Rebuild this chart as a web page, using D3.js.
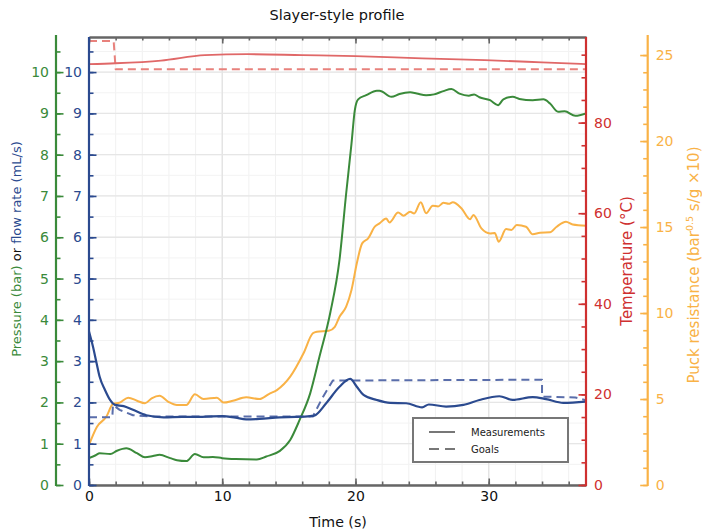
<!DOCTYPE html>
<html>
<head>
<meta charset="utf-8">
<script src="https://cdn.jsdelivr.net/npm/d3@7"></script>
<style>
  body { margin: 0; background: #fff; }
  svg { font-family: "DejaVu Sans", sans-serif; display: block; }
</style>
</head>
<body>
<svg id="chart" width="702" height="532"></svg>
<script>
// measurements, [time s, value]
const pressure = [[0,0.65],[0.5,0.72],[0.8,0.77],[1.6,0.75],[2.1,0.83],[2.8,0.89],[3.6,0.77],[4.2,0.67],[4.8,0.7],[5.3,0.73],[6.1,0.65],[6.6,0.6],[7.3,0.58],[7.95,0.75],[8.6,0.67],[9.3,0.68],[10,0.65],[11,0.63],[12.6,0.62],[13.3,0.69],[14.3,0.82],[15.1,1.09],[15.8,1.57],[16.6,2.22],[17.3,3.11],[18.1,4.16],[18.8,5.45],[19.3,7.06],[19.7,8.27],[19.95,9.08],[20.2,9.34],[20.8,9.44],[21.6,9.55],[21.8,9.55],[22.7,9.40],[23.3,9.47],[24.1,9.51],[24.6,9.48],[25.3,9.44],[25.9,9.46],[26.6,9.54],[27.2,9.59],[27.8,9.48],[28.5,9.43],[28.9,9.46],[29.3,9.39],[30.1,9.32],[30.7,9.2],[31.1,9.34],[31.8,9.40],[32.3,9.35],[33.3,9.32],[34.1,9.34],[34.6,9.24],[35.2,9.04],[35.7,9.05],[36.5,8.94],[37.3,9.0]];
const flow = [[0,3.72],[0.3,3.35],[0.57,2.95],[0.8,2.62],[1.2,2.3],[1.58,2.06],[1.95,1.94],[2.6,1.91],[3.3,1.82],[4.3,1.69],[5.6,1.64],[7,1.65],[8.5,1.65],[10,1.67],[11,1.63],[11.8,1.59],[12.8,1.6],[14.3,1.64],[15.5,1.65],[16.6,1.67],[16.9,1.68],[17.8,1.98],[18.8,2.38],[19.6,2.57],[20.1,2.38],[20.6,2.18],[21.6,2.06],[22.6,1.99],[23.8,1.98],[25,1.88],[25.5,1.95],[26.8,1.90],[28.1,1.94],[29.3,2.06],[30.8,2.15],[31.8,2.06],[33.3,2.13],[34.3,2.08],[35.6,1.99],[37.3,2.02]];
const temperature = [[0,92.9],[2,93.1],[5.4,93.7],[8.7,94.9],[11.9,95.1],[16,94.9],[20,94.7],[25,94.2],[29.7,93.8],[34,93.3],[37.3,92.9]];
const resistance = [[0,2.33],[0.6,3.39],[1.3,3.97],[1.8,4.71],[2.3,4.79],[2.95,5.08],[3.6,4.9],[4.2,4.75],[4.7,5.04],[5.3,5.19],[5.95,4.84],[6.6,4.65],[7.3,4.65],[7.95,5.27],[8.6,5.0],[9.6,5.08],[10.1,4.79],[10.8,4.9],[11.8,5.1],[12.8,5.0],[13.5,5.29],[14.1,5.52],[15.1,6.3],[16.1,7.66],[16.8,8.82],[17.1,8.91],[18,8.97],[18.45,9.2],[18.8,9.78],[19.3,10.37],[19.7,11.34],[20.1,12.89],[20.5,14.05],[20.95,14.34],[21.45,15.02],[21.8,15.21],[22.3,15.5],[22.55,15.27],[23.2,15.85],[23.6,15.66],[24.1,15.89],[24.4,15.79],[24.9,16.44],[25.3,15.8],[25.8,16.24],[26.2,16.2],[26.6,16.41],[27,16.35],[27.3,16.44],[27.95,16.09],[28.6,15.45],[28.85,15.7],[29.45,14.92],[30.1,14.63],[30.45,14.65],[30.75,14.15],[31.3,14.88],[31.7,14.83],[32.1,15.12],[32.8,15.02],[33.3,14.58],[33.85,14.67],[34.6,14.69],[35.1,15.02],[35.8,15.31],[36.3,15.15],[37.3,15.08]];

// goals
const flowGoal = [[0,1.64],[1.75,1.64],[1.8,1.94],[2.3,1.82],[3.3,1.69],[4.5,1.66],[16.8,1.66],[17.5,2.1],[18.3,2.53],[34,2.55],[34,2.14],[36.5,2.12],[37.3,2.05]];
const tempGoal = [[0,98],[1.85,98],[2.0,91.8],[37.3,91.8]];

// ticks
const timeMajor = [0, 10, 20, 30];
const timeMinor = d3.range(0, 37, 2);
const leftMajor = d3.range(0, 11, 1);
const leftMinor = d3.range(0, 10.9, 0.5);
const tempMajor = [0, 20, 40, 60, 80];
const tempMinor = d3.range(0, 99, 5);
const resMajor = [0, 5, 10, 15, 20, 25];
const resMinor = d3.range(0, 26, 1);

const green = "#3a8a3a", blue = "#2b4a8f", blueGoal = "#5a6eab",
      red = "#cf3030", tempLine = "#e06868", tempGoalC = "#e8817c",
      orange = "#f9b246", gray = "#666";

const svg = d3.select("#chart");
const L = 89, R = 586, T = 37, B = 485;

const x = d3.scaleLinear().domain([0, 37.3]).range([L, R]);
const yL = d3.scaleLinear().domain([0, 10.85]).range([B, T]);
const yT = d3.scaleLinear().domain([0, 98.9]).range([B, T]);
const yR = d3.scaleLinear().domain([0, 26.05]).range([B, T]);

// grid
const grid = svg.append("g");
grid.selectAll(".vmin").data(timeMinor).enter().append("line")
  .attr("x1", d => x(d)).attr("x2", d => x(d)).attr("y1", T).attr("y2", B)
  .attr("stroke", "#f1f1f1").attr("stroke-width", 1);
grid.selectAll(".hmin").data(leftMinor).enter().append("line")
  .attr("x1", L).attr("x2", R).attr("y1", d => yL(d)).attr("y2", d => yL(d))
  .attr("stroke", "#f3f3f3").attr("stroke-width", 1);
grid.selectAll(".vmaj").data(timeMajor).enter().append("line")
  .attr("x1", d => x(d)).attr("x2", d => x(d)).attr("y1", T).attr("y2", B)
  .attr("stroke", "#e2e2e2").attr("stroke-width", 1.3);
grid.selectAll(".hmaj").data(leftMajor).enter().append("line")
  .attr("x1", L).attr("x2", R).attr("y1", d => yL(d)).attr("y2", d => yL(d))
  .attr("stroke", "#e6e6e6").attr("stroke-width", 1.3);

// lines
svg.append("clipPath").attr("id", "clip").append("rect")
  .attr("x", L).attr("y", T).attr("width", R - L).attr("height", B - T);
const plot = svg.append("g").attr("clip-path", "url(#clip)");

function drawLine(data, ys, color, dash, width, curve) {
  const line = d3.line().x(d => x(d[0])).y(d => ys(d[1])).curve(curve || d3.curveLinear);
  plot.append("path").datum(data)
    .attr("d", line)
    .attr("fill", "none")
    .attr("stroke", color)
    .attr("stroke-width", width)
    .attr("stroke-dasharray", dash)
    .attr("stroke-linejoin", "round");
}
drawLine(tempGoal, yT, tempGoalC, "8,5", 2);
drawLine(temperature, yT, tempLine, null, 1.8, d3.curveMonotoneX);
drawLine(resistance, yR, orange, null, 2, d3.curveMonotoneX);
drawLine(flowGoal, yL, blueGoal, "8,5", 2);
drawLine(pressure, yL, green, null, 2, d3.curveMonotoneX);
drawLine(flow, yL, blue, null, 2.2, d3.curveMonotoneX);

// axes
function styleAxis(g, color, width, fontSize) {
  g.select(".domain").attr("stroke", color).attr("stroke-width", width);
  g.selectAll(".tick line").attr("stroke", color).attr("stroke-width", 1.6);
  g.selectAll(".tick text").attr("fill", color).style("font-size", fontSize + "px")
    .style("font-family", "DejaVu Sans, sans-serif");
}

// bottom / top
let g = svg.append("g").attr("transform", `translate(0,${B})`)
  .call(d3.axisBottom(x).tickValues(timeMinor).tickFormat("").tickSizeInner(-3.5).tickSizeOuter(0));
styleAxis(g, gray, 2.2, 14);
g = svg.append("g").attr("transform", `translate(0,${B})`)
  .call(d3.axisBottom(x).tickValues(timeMajor).tickFormat(d3.format("d")).tickSizeInner(-6.5).tickSizeOuter(0).tickPadding(6));
styleAxis(g, gray, 2.2, 14);
g.selectAll(".tick text").attr("fill", "#111");
g = svg.append("g").attr("transform", `translate(0,${T})`)
  .call(d3.axisTop(x).tickValues(timeMinor).tickFormat("").tickSizeInner(-3.5).tickSizeOuter(0));
styleAxis(g, gray, 2.2, 14);
g = svg.append("g").attr("transform", `translate(0,${T})`)
  .call(d3.axisTop(x).tickValues(timeMajor).tickFormat("").tickSizeInner(-6.5).tickSizeOuter(0));
styleAxis(g, gray, 2.2, 14);

// vertical axes helper
function vAxis(xpos, scale, major, minor, color, side, pad, ext) {
  const make = side === "left" ? d3.axisLeft : d3.axisRight;
  let a = svg.append("g").attr("transform", `translate(${xpos},0)`)
    .call(make(scale).tickValues(minor).tickFormat("").tickSizeInner(-4.5).tickSizeOuter(0));
  styleAxis(a, color, 2.2, 14);
  a.select(".domain").remove();
  a = svg.append("g").attr("transform", `translate(${xpos},0)`)
    .call(make(scale).tickValues(major).tickFormat(d3.format("d")).tickSizeInner(-7.5).tickSizeOuter(0).tickPadding(pad));
  styleAxis(a, color, 2.2, 14);
  a.select(".domain").remove();
  svg.append("line").attr("x1", xpos).attr("x2", xpos).attr("y1", ext[0]).attr("y2", ext[1])
    .attr("stroke", color).attr("stroke-width", 2.2);
}
vAxis(56, yL, leftMajor, leftMinor, green, "left", 7, [35, B + 1]);
vAxis(L, yL, leftMajor, leftMinor, blue, "left", 7, [T, B + 1]);
vAxis(R, yT, tempMajor, tempMinor, red, "right", 8, [T, B + 1]);
vAxis(647.7, yR, resMajor, resMinor, orange, "right", 8, [35, B + 1]);

// titles
svg.append("text").attr("x", 337).attr("y", 19.5).attr("text-anchor", "middle")
  .style("font-size", "14.5px").attr("fill", "#111").text("Slayer-style profile");
svg.append("text").attr("x", 338).attr("y", 526.5).attr("text-anchor", "middle")
  .style("font-size", "14.2px").attr("fill", "#111").text("Time (s)");

const lt = svg.append("text").attr("transform", "translate(16.7,249) rotate(-90)")
  .attr("dy", "0.35em").attr("text-anchor", "middle").style("font-size", "13px");
lt.append("tspan").attr("fill", green).text("Pressure (bar)");
lt.append("tspan").attr("fill", "#111").text(" or ");
lt.append("tspan").attr("fill", blue).text("flow rate (mL/s)");

svg.append("text").attr("transform", "translate(626.7,261) rotate(-90)")
  .attr("dy", "0.35em").attr("text-anchor", "middle").style("font-size", "15px")
  .attr("fill", red).text("Temperature (°C)");

const rt = svg.append("text").attr("transform", "translate(693.3,265) rotate(-90)")
  .attr("dy", "0.35em").attr("text-anchor", "middle").style("font-size", "15px")
  .attr("fill", orange);
rt.append("tspan").text("Puck resistance (bar");
rt.append("tspan").attr("dy", -6).style("font-size", "9.5px").text("0.5");
rt.append("tspan").attr("dy", 6).text(" s/g ×10)");

// legend
const leg = svg.append("g");
leg.append("rect").attr("x", 413).attr("y", 418).attr("width", 155).attr("height", 44)
  .attr("fill", "#fff").attr("stroke", "#777").attr("stroke-width", 2);
const legItems = [["Measurements", null, 432], ["Goals", "10,6", 449]];
legItems.forEach(([label, dash, ly]) => {
  leg.append("line").attr("x1", 429).attr("x2", 455).attr("y1", ly).attr("y2", ly)
    .attr("stroke", "#777").attr("stroke-width", 2).attr("stroke-dasharray", dash);
  leg.append("text").attr("x", 471).attr("y", ly).attr("dy", "0.35em")
    .style("font-size", "10px").attr("fill", "#222").text(label);
});
</script>
</body>
</html>
